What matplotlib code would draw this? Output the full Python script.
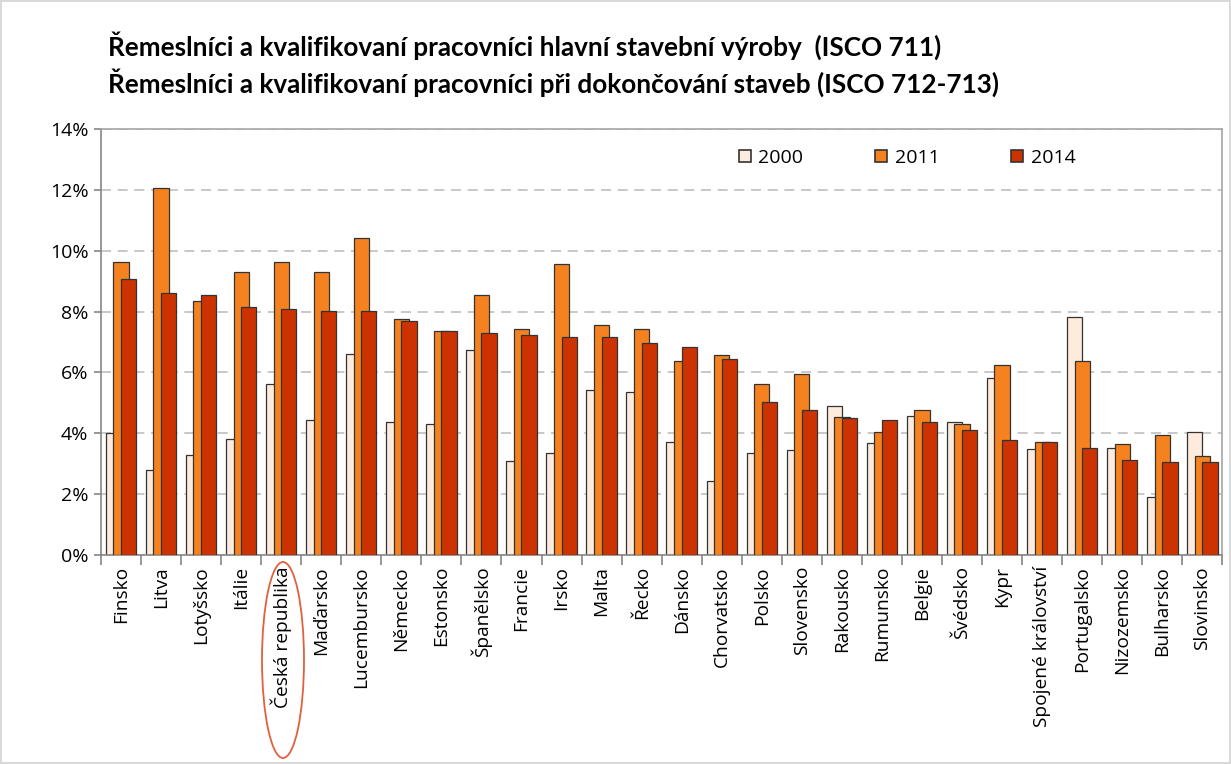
import numpy as np
import matplotlib.pyplot as plt
from matplotlib.patches import Ellipse

# data (podíl v %)
zeme = ['Finsko', 'Litva', 'Lotyšsko', 'Itálie', 'Česká republika', 'Maďarsko',
        'Lucembursko', 'Německo', 'Estonsko', 'Španělsko', 'Francie', 'Irsko',
        'Malta', 'Řecko', 'Dánsko', 'Chorvatsko', 'Polsko', 'Slovensko',
        'Rakousko', 'Rumunsko', 'Belgie', 'Švédsko', 'Kypr', 'Spojené království',
        'Portugalsko', 'Nizozemsko', 'Bulharsko', 'Slovinsko']
r2000 = [4.0, 2.79, 3.29, 3.81, 5.62, 4.44, 6.6, 4.37, 4.3, 6.74, 3.09, 3.34,
         5.41, 5.35, 3.72, 2.42, 3.34, 3.46, 4.9, 3.67, 4.57, 4.36, 5.81, 3.47,
         7.81, 3.53, 1.91, 4.04]
r2011 = [9.63, 12.06, 8.35, 9.3, 9.63, 9.3, 10.42, 7.76, 7.36, 8.54, 7.43, 9.56,
         7.55, 7.43, 6.39, 6.57, 5.61, 5.94, 4.55, 4.04, 4.75, 4.3, 6.24, 3.71,
         6.39, 3.66, 3.93, 3.26]
r2014 = [9.07, 8.61, 8.54, 8.15, 8.08, 8.02, 8.02, 7.69, 7.36, 7.28, 7.23, 7.15,
         7.15, 6.96, 6.82, 6.45, 5.02, 4.77, 4.51, 4.42, 4.37, 4.11, 3.78, 3.71,
         3.52, 3.13, 3.07, 3.07]
roky = ['2000', '2011', '2014']
barvy = ['#FDEBDD', '#F5821F', '#CC3300']

plt.rcParams['font.family'] = ['Open Sans', 'DejaVu Sans']

fig = plt.figure(figsize=(12.31, 7.64), dpi=100)
fig.patch.set_edgecolor('#D9D9D9')
fig.patch.set_linewidth(1.5)
ax = fig.add_axes([0.082, 0.2736, 0.911, 0.5576])

x = np.arange(len(zeme))
sirka = 0.38
posun = 0.19
for i, (hodnoty, rok) in enumerate(zip([r2000, r2011, r2014], roky)):
    ax.bar(x + (i - 1) * posun, np.array(hodnoty) / 100, sirka, color=barvy[i],
           edgecolor='#333333', linewidth=0.9, label=rok, zorder=2 + i)

ax.set_xlim(-0.5, len(zeme) - 0.5)
ax.set_ylim(0, 0.14)
ax.set_yticks(np.arange(0, 0.141, 0.02))
ax.set_yticklabels([f'{int(round(v * 100))}%' for v in np.arange(0, 0.141, 0.02)],
                   fontsize=14)
ax.yaxis.grid(True, color='#BFBFBF', linestyle=(0, (6, 4)), linewidth=1.2, zorder=0)
ax.set_axisbelow(True)

# popisky zemí mezi ticky na hranicích kategorií
ax.set_xticks(np.arange(-0.5, len(zeme), 1.0))
ax.set_xticklabels([])
ax.set_xticks(x, minor=True)
ax.set_xticklabels(zeme, minor=True, rotation=90, fontsize=13.8, va='top')
ax.tick_params(axis='x', which='minor', length=0, pad=8)
ax.tick_params(axis='x', which='major', length=7, color='#868686', width=1.2)
ax.tick_params(axis='y', length=5, color='#868686', width=1.2, pad=4)

for s in ax.spines.values():
    s.set_color('#A6A6A6')
    s.set_linewidth(1.2)
ax.spines['left'].set_color('#868686')
ax.spines['bottom'].set_color('#868686')

leg = ax.legend(ncol=3, loc='center left', bbox_to_anchor=(0.562, 0.932),
                frameon=False, fontsize=14, handlelength=0.6, handleheight=0.6,
                handletextpad=0.4, columnspacing=3.7, borderaxespad=0)
for h in leg.legend_handles:
    h.set_linewidth(1.2)

fig.text(0.088, 0.94, 'Řemeslníci a kvalifikovaní pracovníci hlavní stavební výroby  (ISCO 711)',
         fontsize=18.8, fontweight='bold', family=['Lato', 'DejaVu Sans'], va='center')
fig.text(0.088, 0.892, 'Řemeslníci a kvalifikovaní pracovníci při dokončování staveb (ISCO 712-713)',
         fontsize=18.8, fontweight='bold', family=['Lato', 'DejaVu Sans'], va='center')

# zvýraznění ČR
el = Ellipse((283 / 1231, 1 - 660 / 764), 42 / 1231, 196 / 764, transform=fig.transFigure,
             fill=False, edgecolor='#E0603F', linewidth=1.3)
fig.patches.append(el)

fig.savefig('out.png', dpi=100)
